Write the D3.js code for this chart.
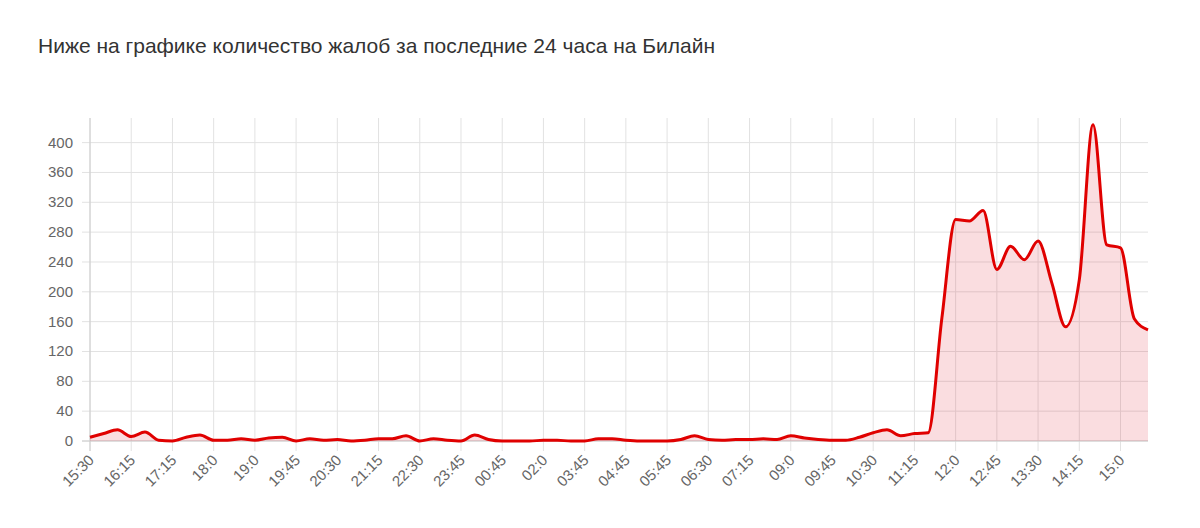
<!DOCTYPE html>
<html>
<head>
<meta charset="utf-8">
<script src="https://cdn.jsdelivr.net/npm/d3@7"></script>
<style>
  body { margin: 0; background: #fff; font-family: "Liberation Sans", Arial, sans-serif; }
</style>
</head>
<body>
<div id="chart"></div>
<script>
// Complaints per point (3 points per labelled interval)
const values = [
  5, 10, 15, 6, 12, 1, 0, 5, 8, 1, 1, 3, 1, 4, 5, 0, 3, 1, 2, 0,
  1, 3, 3, 7, 0, 3, 1, 0, 8, 2, 0, 0, 0, 1, 1, 0, 0, 3, 3, 1,
  0, 0, 0, 2, 7, 2, 1, 2, 2, 3, 2, 7, 4, 2, 1, 1, 5, 11, 15, 7,
  10, 11, 165, 297, 295, 309, 230, 261, 243, 268, 212, 153, 216, 424, 263, 259, 164, 149
];
const tickLabels = ["15:30", "16:15", "17:15", "18:0", "19:0", "19:45", "20:30", "21:15", "22:30",
  "23:45", "00:45", "02:0", "03:45", "04:45", "05:45", "06:30", "07:15", "09:0", "09:45",
  "10:30", "11:15", "12:0", "12:45", "13:30", "14:15", "15:0"];
const yTicks = d3.range(0, 401, 40);

const W = 1200, H = 528;
const mLeft = 90, mRight = 1148, mTop = 118, mBottom = 441;

const svg = d3.select("#chart").append("svg").attr("width", W).attr("height", H);

svg.append("text")
  .attr("x", 38).attr("y", 53)
  .attr("font-size", "21px").attr("fill", "#333")
  .text("Ниже на графике количество жалоб за последние 24 часа на Билайн");

const x = d3.scaleLinear().domain([0, values.length - 1]).range([mLeft, mRight]);
const y = d3.scaleLinear().domain([0, 433]).range([mBottom, mTop]);

// horizontal grid
svg.append("g").selectAll("line").data(yTicks).enter().append("line")
  .attr("x1", mLeft - 8).attr("x2", mRight)
  .attr("y1", d => y(d)).attr("y2", d => y(d))
  .attr("stroke", "#e2e2e2");
svg.append("g").selectAll("text").data(yTicks).enter().append("text")
  .attr("x", mLeft - 17).attr("y", d => y(d) + 5)
  .attr("text-anchor", "end").attr("font-size", "15px").attr("fill", "#666")
  .text(d => d);

// vertical grid at labelled points
const labelIdx = tickLabels.map((_, i) => i * 3);
svg.append("g").selectAll("line").data(labelIdx).enter().append("line")
  .attr("x1", d => x(d)).attr("x2", d => x(d))
  .attr("y1", mTop).attr("y2", mBottom + 10)
  .attr("stroke", "#e2e2e2");
svg.append("line").attr("x1", mLeft).attr("x2", mLeft).attr("y1", mTop).attr("y2", mBottom + 10)
  .attr("stroke", "#ccc");
svg.append("line").attr("x1", mLeft - 8).attr("x2", mRight).attr("y1", mBottom).attr("y2", mBottom)
  .attr("stroke", "#ccc");

svg.append("g").selectAll("text").data(tickLabels).enter().append("text")
  .attr("transform", (d, i) => `translate(${x(i * 3) + 5},${mBottom + 20}) rotate(-45)`)
  .attr("text-anchor", "end").attr("font-size", "15px").attr("fill", "#666")
  .text(d => d);

const area = d3.area().x((d, i) => x(i)).y0(y(0)).y1(d => y(d)).curve(d3.curveMonotoneX);
const line = d3.line().x((d, i) => x(i)).y(d => y(d)).curve(d3.curveMonotoneX);

svg.append("path").datum(values).attr("d", area).attr("fill", "rgba(220,30,50,0.15)");
svg.append("path").datum(values).attr("d", line)
  .attr("fill", "none").attr("stroke", "#e00000").attr("stroke-width", 3);
</script>
</body>
</html>
